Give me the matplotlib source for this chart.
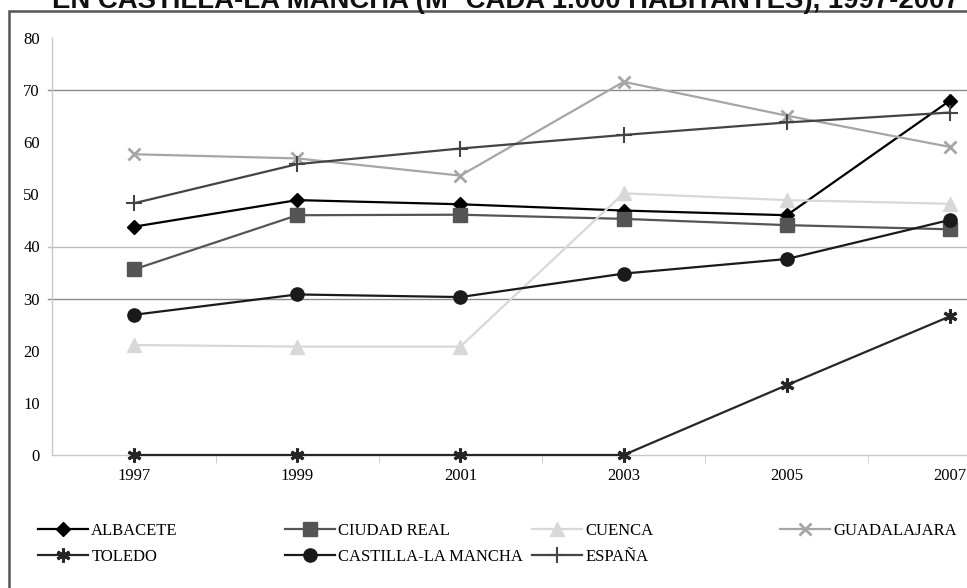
import numpy as np
import matplotlib.pyplot as plt
from matplotlib.patches import Rectangle


years = ["1997", "1999", "2001", "2003", "2005", "2007"]

albacete = [43.8, 48.9, 48.1, 46.9, 46.0, 68.0]
ciudad_real = [35.6, 46.0, 46.1, 45.3, 44.1, 43.3]
cuenca = [21.1, 20.8, 20.8, 50.2, 48.9, 48.2]
guadalajara = [57.7, 56.9, 53.6, 71.6, 65.1, 59.1]
toledo = [0.0, 0.0, 0.0, 0.0, 13.4, 26.6]
castilla = [26.9, 30.8, 30.3, 34.8, 37.6, 45.1]
espana = [48.3, 55.8, 58.8, 61.4, 63.8, 65.7]

y_ticks = [0, 10, 20, 30, 40, 50, 60, 70, 80]
grid_lines = [30, 40, 70]

title = "EN CASTILLA-LA MANCHA (Mº CADA 1.000 HABITANTES), 1997-2007"

# series: name, values, line colour, marker, marker size, marker edge width
series = [
    ("ALBACETE", albacete, "#000000", "D", 7, 1),
    ("CIUDAD REAL", ciudad_real, "#555555", "s", 9.5, 1),
    ("CUENCA", cuenca, "#d8d8d8", "^", 10, 1),
    ("GUADALAJARA", guadalajara, "#a6a6a6", "x", 9, 2),
    ("TOLEDO", toledo, "#262626", (6, 2, 0), 10, 2.2),
    ("CASTILLA-LA MANCHA", castilla, "#1a1a1a", "o", 9.5, 1),
    ("ESPAÑA", espana, "#444444", "+", 11, 1.5),
]

serif = {"family": "Liberation Serif", "size": 12}

W, H = 967, 588
fig = plt.figure(figsize=(W / 100, H / 100), dpi=100)

# plot area: y axis at x=52, value 0 at y=455, value 80 at y=38
left, right = 52.4, 1031.6
bottom, top = 455, 38
ax = fig.add_axes([left / W, 1 - bottom / H, (right - left) / W, (bottom - top) / H])

x = np.arange(len(years))
handles = []
for name, vals, color, marker, ms, mew in series:
    ln, = ax.plot(x, vals, color=color, lw=1.6, marker=marker, markersize=ms,
                  markerfacecolor=color, markeredgecolor=color, markeredgewidth=mew,
                  clip_on=False, zorder=3)
    handles.append(ln)

ax.set_xlim(-0.5, len(years) - 0.5)
ax.set_ylim(0, 80)

for g in grid_lines:
    c = "#bdbdbd" if g == 40 else "#8a8a8a"
    ax.axhline(g, xmin=-4 / (right - left), xmax=1, color=c, lw=1, zorder=1, clip_on=False)

for s in ["top", "right"]:
    ax.spines[s].set_visible(False)
ax.spines["left"].set_color("#c8c8c8")
ax.spines["bottom"].set_color("#c8c8c8")
ax.spines["left"].set_linewidth(1)
ax.spines["bottom"].set_linewidth(1)

ax.set_yticks(y_ticks)
ax.set_yticklabels([str(v) for v in y_ticks], fontdict=serif)
ax.tick_params(axis="y", length=0, pad=9)

ax.set_xticks(x)
ax.set_xticklabels(years, fontdict=serif)
ax.set_xticks(x[:-1] + 0.5, minor=True)
ax.tick_params(axis="x", which="major", length=0, pad=9)
ax.tick_params(axis="x", which="minor", length=6, color="#c8c8c8", direction="out")

# legend, 4 columns at fixed pitch
col_x = [38, 285, 532, 780]
row_y = [531, 557]
for i, (h, s) in enumerate(zip(handles, series)):
    r, c = divmod(i, 4)
    fig.legend(handles=[h], labels=[s[0]], loc="center left",
               bbox_to_anchor=(col_x[c] / W, 1 - row_y[r] / H),
               frameon=False, borderpad=0, borderaxespad=0,
               handlelength=3.0, handletextpad=0.2, prop=serif)

# outer frame (cut by the image edges)
fig.add_artist(Rectangle((9 / W, -0.2), 1.2, 1.2 - 11 / H, transform=fig.transFigure,
                         fill=False, edgecolor="#555555", lw=1.8))

# title sits mostly above the image, as in the reference
fig.text(506 / W, 1 - 8 / H, title, ha="center", va="baseline",
         fontsize=19.8, fontweight="bold", family="Liberation Sans", color="#111111")

fig.savefig("out.png", dpi=100)
